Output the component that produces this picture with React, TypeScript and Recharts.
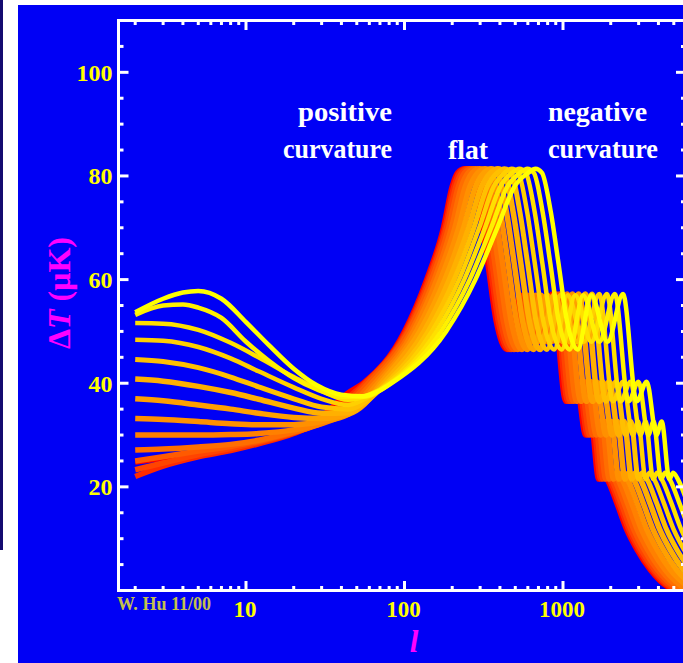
import React from 'react';
import { LineChart, Line, XAxis, YAxis } from 'recharts';

// ---------- axis ticks & labels ----------
const L_TICKS = [2, 3, 4, 5, 6, 7, 8, 9, 10, 20, 30, 40, 50, 60, 70, 80, 90, 100, 200, 300, 400, 500, 600, 700, 800, 900, 1000, 2000, 3000, 4000, 5000];
const L_LABELS = [10, 100, 1000];
const DT_TICKS = [5, 10, 15, 20, 25, 30, 35, 40, 45, 50, 55, 60, 65, 70, 75, 80, 85, 90, 95, 100, 105];
const DT_LABELS = [20, 40, 60, 80, 100];
const L_DOMAIN: [number, number] = [1.569, 5970];
const DT_DOMAIN: [number, number] = [0, 110];

// ---------- curves: [l, ΔT] (red = flat ... yellow = most open) ----------
const curve0: [number, number][] = [[2, 24.8], [3, 25.5], [5, 26.5], [8, 27.4], [12, 28.6], [20, 30.8], [30, 33.6], [44, 38.1], [55, 40], [100, 50], [138, 60], [176, 70], [200, 78], [216, 80.6], [240, 81.4], [264, 80.6], [300, 73], [336, 63], [379, 52], [444, 46.5], [540, 57], [684, 48], [857, 57.2], [1044, 36.5], [1210, 40.3], [1392, 30], [1502, 32.6], [1680, 21.5], [1774, 22.7], [1920, 21.2], [2184, 16.9], [2520, 11.8], [2928, 7.9], [3552, 4], [4536, 0.8], [5520, 0]];
const curve1: [number, number][] = [[2, 22.0], [3, 24.0], [5, 25.8], [8, 27.0], [12, 28.3], [20, 30.3], [30, 32.8], [44, 37.2], [56, 40], [102, 50], [141, 60], [180, 70], [205, 78], [222, 80.6], [247, 81.4], [272, 80.6], [309, 73], [346, 63], [390, 52], [457, 46.5], [556, 57], [704, 48], [882, 57.2], [1074, 36.5], [1245, 40.3], [1433, 30], [1546, 32.6], [1729, 21.5], [1825, 22.7], [1976, 21.2], [2248, 16.9], [2594, 11.8], [3013, 7.9], [3656, 4], [4668, 0.8], [5681, 0]];
const curve2: [number, number][] = [[2, 23.3], [3, 24.6], [5, 26.2], [8, 27.4], [12, 28.6], [20, 30.4], [30, 32.6], [44, 36.5], [57, 40], [104, 50], [144, 60], [184, 70], [211, 78], [230, 80.6], [255, 81.4], [281, 80.6], [319, 73], [357, 63], [403, 52], [472, 46.5], [574, 57], [727, 48], [910, 57.2], [1109, 36.5], [1285, 40.3], [1479, 30], [1596, 32.6], [1785, 21.5], [1884, 22.7], [2040, 21.2], [2321, 16.9], [2678, 11.8], [3111, 7.9], [3774, 4], [4820, 0.8], [5865, 0]];
const curve3: [number, number][] = [[2, 25.0], [3, 25.8], [5, 26.9], [8, 27.8], [12, 28.8], [20, 30.5], [30, 32.5], [44, 36.0], [59, 40], [106, 50], [148, 60], [190, 70], [219, 78], [239, 80.6], [266, 81.4], [293, 80.6], [333, 73], [372, 63], [420, 52], [492, 46.5], [599, 57], [758, 48], [950, 57.2], [1157, 36.5], [1341, 40.3], [1543, 30], [1665, 32.6], [1862, 21.5], [1966, 22.7], [2128, 21.2], [2421, 16.9], [2793, 11.8], [3245, 7.9], [3937, 4], [5027, 0.8], [6118, 0]];
const curve4: [number, number][] = [[2, 27.1], [3, 27.3], [5, 27.7], [8, 28.2], [12, 29.0], [20, 30.6], [30, 32.3], [44, 35.2], [62, 40], [110, 50], [154, 60], [198, 70], [229, 78], [252, 80.6], [280, 81.4], [308, 80.6], [350, 73], [392, 63], [442, 52], [518, 46.5], [630, 57], [798, 48], [1000, 57.2], [1218, 36.5], [1411, 40.3], [1624, 30], [1753, 32.6], [1960, 21.5], [2069, 22.7], [2240, 21.2], [2548, 16.9], [2940, 11.8], [3416, 7.9], [4144, 4], [5292, 0.8], [6440, 0]];
const curve5: [number, number][] = [[2, 30.0], [3, 30.0], [5, 30.0], [8, 30.1], [12, 30.3], [20, 31.0], [30, 32.2], [44, 34.5], [65, 40], [114, 50], [160, 60], [208, 70], [242, 78], [268, 80.6], [298, 81.4], [328, 80.6], [373, 73], [417, 63], [471, 52], [551, 46.5], [671, 57], [849, 48], [1064, 57.2], [1296, 36.5], [1502, 40.3], [1728, 30], [1865, 32.6], [2086, 21.5], [2202, 22.7], [2384, 21.2], [2712, 16.9], [3129, 11.8], [3636, 7.9], [4410, 4], [5632, 0.8], [6854, 0]];
const curve6: [number, number][] = [[2, 33.2], [3, 33.0], [5, 32.6], [8, 32.2], [12, 32.0], [20, 32.0], [30, 32.6], [44, 34.0], [68, 40], [119, 50], [169, 60], [220, 70], [259, 78], [290, 80.6], [322, 81.4], [354, 80.6], [403, 73], [451, 63], [509, 52], [596, 46.5], [725, 57], [918, 48], [1150, 57.2], [1401, 36.5], [1623, 40.3], [1868, 30], [2016, 32.6], [2254, 21.5], [2380, 22.7], [2576, 21.2], [2930, 16.9], [3381, 11.8], [3928, 7.9], [4766, 4], [6086, 0.8]];
const curve7: [number, number][] = [[2, 37.0], [3, 36.6], [5, 35.8], [8, 35.0], [12, 34.2], [20, 33.4], [30, 33.2], [44, 34.0], [56, 36.0], [71, 40], [125, 50], [180, 60], [236, 70], [281, 78], [317, 80.6], [352, 81.4], [387, 80.6], [440, 73], [493, 63], [556, 52], [651, 46.5], [792, 57], [1003, 48], [1257, 57.2], [1531, 36.5], [1774, 40.3], [2042, 30], [2204, 32.6], [2464, 21.5], [2601, 22.7], [2816, 21.2], [3203, 16.9], [3696, 11.8], [4294, 7.9], [5210, 4], [6653, 0.8]];
const curve8: [number, number][] = [[2, 40.8], [3, 40.4], [5, 39.4], [8, 38.2], [12, 36.9], [20, 35.2], [30, 34.2], [44, 34.3], [58, 36.5], [74, 40], [133, 50], [192, 60], [254, 70], [306, 78], [349, 80.6], [388, 81.4], [427, 80.6], [485, 73], [543, 63], [613, 52], [718, 46.5], [873, 57], [1106, 48], [1385, 57.2], [1688, 36.5], [1956, 40.3], [2250, 30], [2429, 32.6], [2716, 21.5], [2867, 22.7], [3104, 21.2], [3531, 16.9], [4074, 11.8], [4734, 7.9], [5742, 4], [7333, 0.8]];
const curve9: [number, number][] = [[2, 44.6], [3, 44.2], [5, 43.0], [8, 41.2], [12, 39.3], [20, 37.0], [30, 35.4], [44, 35.0], [60, 37.0], [77, 40], [141, 50], [206, 60], [274, 70], [333, 78], [385, 80.6], [428, 81.4], [471, 80.6], [535, 73], [599, 63], [676, 52], [792, 46.5], [963, 57], [1220, 48], [1528, 57.2], [1862, 36.5], [2157, 40.3], [2482, 30], [2679, 32.6], [2996, 21.5], [3163, 22.7], [3424, 21.2], [3895, 16.9], [4494, 11.8], [5222, 7.9], [6334, 4]];
const curve10: [number, number][] = [[2, 48.4], [3, 48.2], [5, 47.0], [8, 44.8], [12, 42.3], [20, 39.2], [30, 37.0], [44, 35.8], [60, 37.5], [79, 40], [149, 50], [221, 60], [296, 70], [366, 78], [428, 80.6], [475, 81.4], [523, 80.6], [594, 73], [665, 63], [751, 52], [879, 46.5], [1069, 57], [1354, 48], [1696, 57.2], [2066, 36.5], [2394, 40.3], [2755, 30], [2974, 32.6], [3325, 21.5], [3510, 22.7], [3800, 21.2], [4323, 16.9], [4988, 11.8], [5795, 7.9], [7030, 4]];
const curve11: [number, number][] = [[2, 51.6], [3, 51.5], [5, 50.3], [8, 47.8], [12, 45.0], [20, 41.2], [30, 38.5], [44, 36.8], [60, 37.8], [81, 40], [159, 50], [238, 60], [322, 70], [403, 78], [477, 80.6], [530, 81.4], [583, 80.6], [663, 73], [742, 63], [837, 52], [981, 46.5], [1193, 57], [1511, 48], [1892, 57.2], [2306, 36.5], [2671, 40.3], [3074, 30], [3318, 32.6], [3710, 21.5], [3917, 22.7], [4240, 21.2], [4823, 16.9], [5565, 11.8], [6466, 7.9]];
const curve12: [number, number][] = [[2, 53.2], [3, 55.0], [4, 55.2], [5, 54.6], [7, 52.6], [10, 48.0], [14, 44.3], [20, 41.0], [28, 38.8], [40, 37.4], [55, 37.4], [82, 40], [170, 50], [258, 60], [352, 70], [446, 78], [536, 80.6], [595, 81.4], [655, 80.6], [744, 73], [833, 63], [940, 52], [1101, 46.5], [1339, 57], [1696, 48], [2124, 57.2], [2588, 36.5], [2999, 40.3], [3451, 30], [3725, 32.6], [4165, 21.5], [4397, 22.7], [4760, 21.2], [5415, 16.9], [6248, 11.8]];
const curve13: [number, number][] = [[2, 53.7], [3, 56.3], [4, 57.5], [5, 57.8], [7, 56.3], [10, 51.8], [14, 47.3], [20, 42.8], [28, 39.6], [40, 37.8], [55, 37.5], [70, 38.6], [83, 40], [183, 50], [280, 60], [385, 70], [495, 78], [603, 80.6], [670, 81.4], [737, 80.6], [838, 73], [938, 63], [1059, 52], [1240, 46.5], [1508, 57], [1910, 48], [2392, 57.2], [2915, 36.5], [3377, 40.3], [3886, 30], [4194, 32.6], [4690, 21.5], [4951, 22.7], [5360, 21.2], [6097, 16.9]];

const CURVES = [curve0, curve1, curve2, curve3, curve4, curve5, curve6, curve7, curve8, curve9, curve10, curve11, curve12, curve13];
const CURVE_COLORS = ['#ff0000', '#ff2a00', '#ff4400', '#ff5a00', '#ff6e00', '#ff8000', '#ff9000', '#ffa000', '#ffb000', '#ffc000', '#ffd000', '#ffe000', '#fff000', '#ffff00'];
const CURVE_WIDTHS = [5.5, 5.5, 5.5, 5.5, 5.5, 5.5, 5.5, 5.5, 5.5, 5, 4.5, 4.5, 4.5, 4.5];

const SERIES = CURVES.map((c) => c.map(([l, v]) => ({ l, v })));

// ---------- styling ----------
const BLUE = '#0000f5';
const TICK_YELLOW = '#ffff00';
const MAGENTA = '#ff00ff';
const SERIF = '"Liberation Serif", "Times New Roman", serif';

const XTickBottom = (props: any) => {
  const { x, y, payload } = props;
  const v = payload.value;
  const major = L_LABELS.includes(v);
  return (
    <g>
      <line x1={x} x2={x} y1={y} y2={y - (major ? 9.5 : 4.5)} stroke="#fff" strokeWidth={3} />
      {major && (
        <text x={x - 1} y={y + 26.5} textAnchor="middle" fill={TICK_YELLOW} fontFamily={SERIF} fontWeight="bold" fontSize={23}>
          {v}
        </text>
      )}
    </g>
  );
};

const XTickTop = (props: any) => {
  const { x, y, payload } = props;
  const major = L_LABELS.includes(payload.value);
  return <line x1={x} x2={x} y1={y} y2={y + (major ? 9.5 : 4.5)} stroke="#fff" strokeWidth={3} />;
};

const YTickLeft = (props: any) => {
  const { x, y, payload } = props;
  const v = payload.value;
  const major = DT_LABELS.includes(v);
  return (
    <g>
      <line x1={x} x2={x + (major ? 10 : 5)} y1={y} y2={y} stroke="#fff" strokeWidth={3} />
      {major && (
        <text x={x - 6} y={y + 8.5} textAnchor="end" fill={TICK_YELLOW} fontFamily={SERIF} fontWeight="bold" fontSize={24}>
          {v}
        </text>
      )}
    </g>
  );
};

const YTickRight = (props: any) => {
  const { x, y, payload } = props;
  const major = DT_LABELS.includes(payload.value);
  return <line x1={x} x2={x - (major ? 10 : 5)} y1={y} y2={y} stroke="#fff" strokeWidth={3} />;
};

const axisLineStyle = { stroke: '#ffffff', strokeWidth: 3, strokeLinecap: 'square' as const };

export default function App() {
  return (
    <div style={{ position: 'absolute', left: 0, top: 0, width: 683, height: 663, overflow: 'hidden', background: '#ffffff' }}>
      <div style={{ position: 'absolute', left: 0, top: 0, width: 3, height: 550, background: '#140a70' }} />
      <div style={{ position: 'absolute', left: 18, top: 5, width: 665, height: 658, background: BLUE }} />
      <div style={{ position: 'absolute', left: 0, top: 0 }}>
        <LineChart width={700} height={663} margin={{ top: 10.5, right: 4, bottom: 42.5, left: 58.5 }}>
          <XAxis
            dataKey="l"
            type="number"
            scale="log"
            domain={L_DOMAIN}
            allowDataOverflow
            ticks={L_TICKS}
            interval={0}
            height={30}
            tickSize={0}
            tickMargin={0}
            tickLine={false}
            axisLine={axisLineStyle}
            tick={XTickBottom}
          />
          <XAxis
            xAxisId="top"
            orientation="top"
            dataKey="l"
            type="number"
            scale="log"
            domain={L_DOMAIN}
            allowDataOverflow
            ticks={L_TICKS}
            interval={0}
            height={10}
            tickSize={0}
            tickMargin={0}
            tickLine={false}
            axisLine={axisLineStyle}
            tick={XTickTop}
          />
          <YAxis
            type="number"
            domain={DT_DOMAIN}
            allowDataOverflow
            ticks={DT_TICKS}
            interval={0}
            width={60}
            tickSize={0}
            tickMargin={0}
            tickLine={false}
            axisLine={axisLineStyle}
            tick={YTickLeft}
          />
          <YAxis
            yAxisId="right"
            orientation="right"
            type="number"
            domain={DT_DOMAIN}
            allowDataOverflow
            ticks={DT_TICKS}
            interval={0}
            width={10}
            tickSize={0}
            tickMargin={0}
            tickLine={false}
            axisLine={axisLineStyle}
            tick={YTickRight}
          />
          {SERIES.map((data, i) => (
            <Line
              key={i}
              data={data}
              dataKey="v"
              type="monotone"
              stroke={CURVE_COLORS[i]}
              strokeWidth={CURVE_WIDTHS[i]}
              dot={false}
              activeDot={false}
              isAnimationActive={false}
            />
          ))}
        </LineChart>
      </div>
      <svg width={683} height={663} style={{ position: 'absolute', left: 0, top: 0, pointerEvents: 'none' }}>
        <g fontFamily={SERIF} fontWeight="bold" fontSize={27} fill="#ffffff">
          <text x={298} y={120.5} textLength={94} lengthAdjust="spacingAndGlyphs">positive</text>
          <text x={283} y={158} textLength={109} lengthAdjust="spacingAndGlyphs">curvature</text>
          <text x={448} y={159} textLength={40} lengthAdjust="spacingAndGlyphs">flat</text>
          <text x={548} y={120.5} textLength={99} lengthAdjust="spacingAndGlyphs">negative</text>
          <text x={548} y={158} textLength={110} lengthAdjust="spacingAndGlyphs">curvature</text>
        </g>
        <text x={117} y={610} fill="#c4c04c" fontFamily={SERIF} fontWeight="bold" fontSize={19} textLength={94} lengthAdjust="spacingAndGlyphs">
          W. Hu 11/00
        </text>
        <text x={414} y={652} fill={MAGENTA} fontFamily={SERIF} fontWeight="bold" fontStyle="italic" fontSize={31} textAnchor="middle">
          l
        </text>
        <text
          x={70}
          y={293}
          transform="rotate(-90 70 293)"
          fill={MAGENTA}
          fontFamily={SERIF}
          fontWeight="bold"
          fontSize={32}
          textAnchor="middle"
        >
          Δ<tspan fontStyle="italic">T</tspan> (μK)
        </text>
      </svg>
    </div>
  );
}
